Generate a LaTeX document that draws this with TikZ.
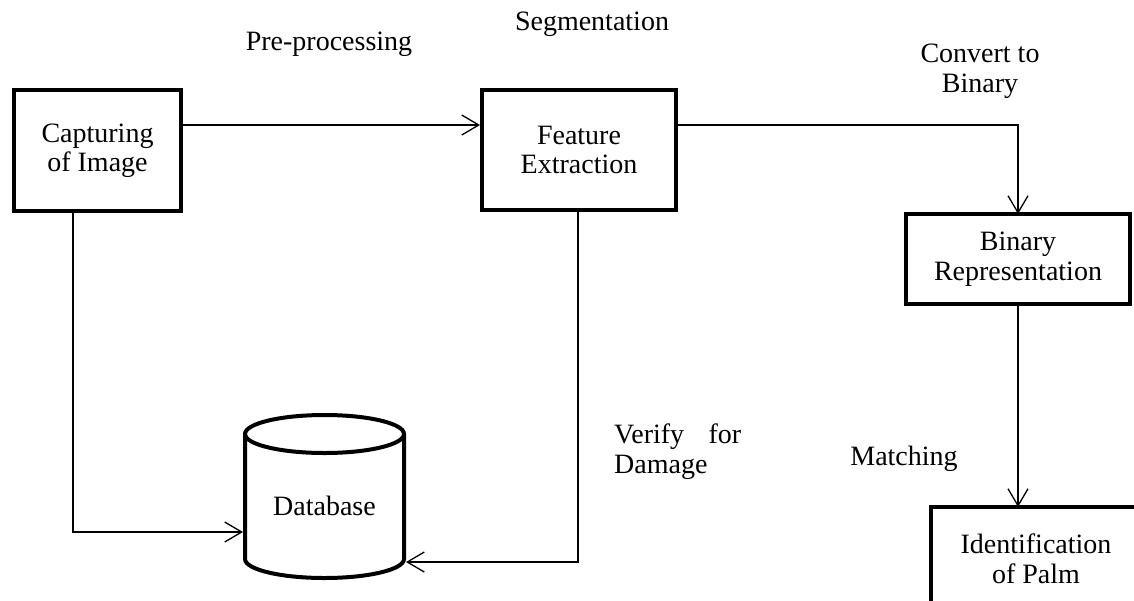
\documentclass[tikz,border=0pt]{standalone}
\usepackage{fontspec}
\setmainfont{Liberation Serif}
\usetikzlibrary{arrows.meta}
\begin{document}
\begin{tikzpicture}[x=1pt,y=-1pt,
  every node/.style={font=\fontsize{28}{29.5}\selectfont},
  box/.style={draw,line width=4pt,align=center,inner sep=0pt,outer sep=0pt},
  conn/.style={line width=1.3pt,-{Straight Barb[length=17pt,width=20pt,line width=1.3pt]}},
  lbl/.style={align=center,inner sep=0pt},
  thickline/.style={line width=4pt}]
\useasboundingbox (0,0) rectangle (1134,600);
\clip (0,0) rectangle (1134,600);
% boxes
\node[box,minimum width=167pt,minimum height=121pt] (cap) at (97.5,150.5) {Capturing\\of Image};
\node[box,minimum width=194pt,minimum height=120pt] (feat) at (579,150) {Feature\\Extraction};
\node[box,minimum width=224pt,minimum height=90pt] (bin) at (1018,259) {Binary\\Representation};
\node[box,minimum width=210pt,minimum height=104pt,anchor=north west] (idp) at (931,507) {Identification\\of Palm};
% database cylinder
\draw[thickline] (245,434) -- (245,559) arc[start angle=180,end angle=360,x radius=79.5pt,y radius=19pt] -- (404,434);
\draw[thickline] (324.5,434) ellipse[x radius=79.5pt,y radius=19pt];
\node[inner sep=0pt,minimum width=163pt,minimum height=144pt] (db) at (324.5,506) {Database};
% coordinates
\coordinate (capout) at (73,213);
\coordinate (dbin1) at (243,532);
\coordinate (featout) at (578,212);
\coordinate (dbin2) at (406,562);
\coordinate (capr) at (183,125);
\coordinate (featl) at (480,125);
\coordinate (featr) at (678,125);
% connectors
\draw[conn] (capr) -- (featl);
\draw[conn] (featr) -| (bin.north);
\draw[conn] (bin.south) -- (bin.south |- idp.north);
\draw[conn] (capout) |- (dbin1);
\draw[conn] (featout) |- (dbin2);
% labels
\node[lbl] (pre) at (329,44) {Pre-processing};
\node[lbl] (seg) at (592,24) {Segmentation};
\node[lbl] (cvt) at (980,71) {Convert to\\Binary};
\node[lbl,text width=127pt,align=justify,anchor=north west] (ver) at (614,424) {Verify for Damage};
\node[lbl] (mat) at (904,459) {Matching};
\end{tikzpicture}
\end{document}
